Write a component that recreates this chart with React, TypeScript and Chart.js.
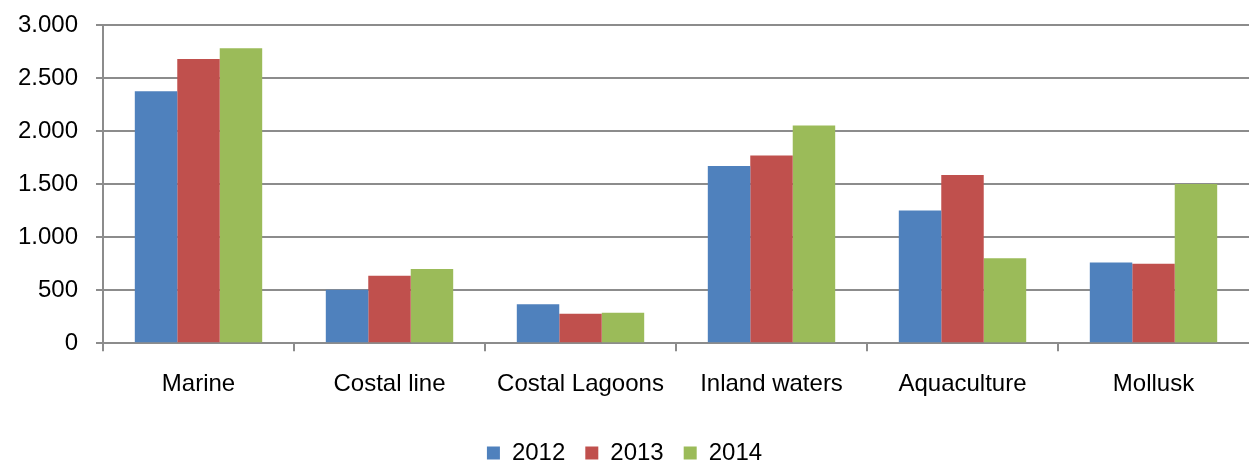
import React, { useEffect, useRef } from "react";
import { Chart, registerables } from "chart.js";

Chart.register(...registerables);

const categories = ["Marine", "Costal line", "Costal Lagoons", "Inland waters", "Aquaculture", "Mollusk"];
const seriesLabels = ["2012", "2013", "2014"];
const values2012 = [2375, 505, 368, 1670, 1250, 760];
const values2013 = [2680, 636, 277, 1770, 1585, 750];
const values2014 = [2780, 700, 287, 2052, 800, 1500];
const seriesColors = ["#4F81BD", "#C0504D", "#9BBB59"];
const yMin = 0;
const yMax = 3000;
const yStep = 500;

const FONT = "'Liberation Sans', Arial, sans-serif";
const GRID = "#8c8c8c";

function formatThousands(v: number): string {
  return String(Math.round(v)).replace(/\B(?=(\d{3})+(?!\d))/g, ".");
}

export default function App() {
  const ref = useRef<HTMLCanvasElement | null>(null);

  useEffect(() => {
    if (!ref.current) return;
    const allValues = [values2012, values2013, values2014];
    const chart = new Chart(ref.current, {
      type: "bar",
      data: {
        labels: categories,
        datasets: seriesLabels.map((label, i) => ({
          label,
          data: allValues[i],
          backgroundColor: seriesColors[i],
          borderWidth: 0,
          categoryPercentage: 0.667,
          barPercentage: 1.0,
        })),
      },
      options: {
        responsive: false,
        animation: false,
        layout: { padding: { top: 25, right: 0, left: 0, bottom: -11 } },
        plugins: {
          tooltip: { enabled: false },
          legend: {
            position: "bottom",
            labels: {
              boxWidth: 13,
              boxHeight: 13,
              padding: 20,
              color: "#000",
              font: { family: FONT, size: 24 },
            },
          },
        },
        scales: {
          x: {
            afterFit: (s: any) => {
              s.height += 3;
            },
            grid: {
              offset: true,
              drawOnChartArea: false,
              drawTicks: true,
              tickLength: 8,
              color: GRID,
              tickColor: (ctx: any) => (ctx && ctx.tick ? GRID : "rgba(0,0,0,0)"),
              lineWidth: 2,
            },
            border: { color: GRID, width: 2 },
            ticks: {
              color: "#000",
              font: { family: FONT, size: 24 },
              padding: 19,
              maxRotation: 0,
              autoSkip: false,
            },
          },
          y: {
            min: yMin,
            max: yMax,
            afterFit: (s: any) => {
              s.width = 103;
              s.paddingTop = 0;
              s.paddingBottom = 0;
            },
            grid: {
              color: GRID,
              lineWidth: 2,
              drawTicks: true,
              tickLength: 7,
            },
            border: { color: GRID, width: 2 },
            ticks: {
              stepSize: yStep,
              color: "#000",
              font: { family: FONT, size: 24 },
              padding: 18,
              callback: (v: any) => formatThousands(Number(v)),
            },
          },
        },
      },
    });
    return () => chart.destroy();
  }, []);

  return (
    <div style={{ position: "absolute", left: 0, top: 0, width: 1249, height: 464, background: "#fff" }}>
      <canvas ref={ref} width={1249} height={464} style={{ display: "block" }} />
    </div>
  );
}
